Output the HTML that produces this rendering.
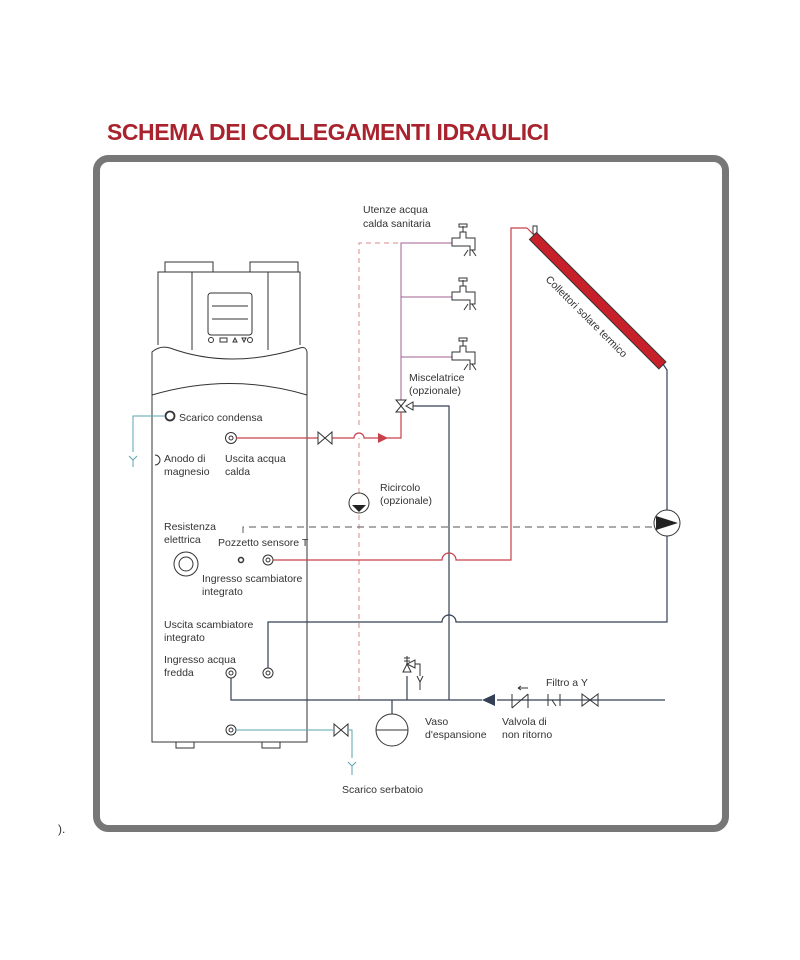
<!DOCTYPE html>
<html><head><meta charset="utf-8"><style>
html,body{margin:0;padding:0;background:#fff;width:800px;height:960px;overflow:hidden}
svg text{font-family:"Liberation Sans",sans-serif}
</style></head><body>
<svg width="800" height="960" viewBox="0 0 800 960" xmlns="http://www.w3.org/2000/svg">
<text x="107" y="140" font-size="23" font-weight="bold" fill="#a8232d" letter-spacing="-0.45">SCHEMA DEI COLLEGAMENTI IDRAULICI</text>
<rect x="96.5" y="158.5" width="629" height="670" rx="12" fill="none" stroke="#777" stroke-width="7"/>
<text x="58" y="833" font-size="12" fill="#333">).</text>

<g fill="none" stroke="#333" stroke-width="1">
<rect x="165" y="262" width="48" height="10"/>
<rect x="250" y="262" width="48" height="10"/>
<path d="M158 345 V272 H300 V345"/>
<line x1="192" y1="272" x2="192" y2="350"/>
<line x1="268" y1="272" x2="268" y2="350"/>
<rect x="208" y="293" width="44" height="42" rx="3"/>
<line x1="212" y1="306" x2="248" y2="306"/><line x1="212" y1="319" x2="248" y2="319"/>
<path d="M152 352 Q160 345 170 348 Q230 370 300 348 Q306 346 307 352 V742 H152 Z"/>
<path d="M152 395 Q230 372 307 395"/>
<rect x="176" y="742" width="18" height="6"/><rect x="262" y="742" width="18" height="6"/>
<circle cx="211" cy="340" r="2.5"/><rect x="220" y="338" width="7" height="4"/>
<path d="M233 342 L235 338 L237 342Z"/><path d="M242 338 L246 338 L244 342Z"/><circle cx="250" cy="340" r="2.5"/>
<circle cx="170" cy="416" r="4.5" stroke-width="1.8"/>
<path d="M155 455 A5 5 0 0 1 155 465"/>
<circle cx="231" cy="438" r="5.5"/><circle cx="231" cy="438" r="2"/>
<circle cx="186" cy="564" r="12"/><circle cx="186" cy="564" r="7"/>
<circle cx="241" cy="560" r="2.5" stroke-width="1.5"/>
<circle cx="268" cy="560" r="5"/><circle cx="268" cy="560" r="2"/>
<circle cx="231" cy="673" r="5"/><circle cx="231" cy="673" r="2"/>
<circle cx="268" cy="673" r="5"/><circle cx="268" cy="673" r="2"/>
<circle cx="231" cy="730" r="5"/><circle cx="231" cy="730" r="2"/>
</g>

<path d="M359 700 V438 M359 425 V243 H400" fill="none" stroke="#d88" stroke-width="1" stroke-dasharray="5,4"/>
<path d="M243 533 V527 H655" fill="none" stroke="#777" stroke-width="1.2" stroke-dasharray="7,5"/>

<g stroke="#a06090" stroke-width="1" fill="none">
<path d="M401 400 V243 H452 M401 297 H452 M401 357 H452"/>
</g>
<g fill="none" stroke="#333" stroke-width="1">
<path d="M452 238 H460 V232 H466 V238 H475 V250 H470 V246 H452 Z M463 232 V226 M459 224 h8 v3 h-8z M468 250 l-4 6 M470 250 v6 M472 250 l4 6"/>
<path d="M452 292 H460 V286 H466 V292 H475 V304 H470 V300 H452 Z M463 286 V280 M459 278 h8 v3 h-8z M468 304 l-4 6 M470 304 v6 M472 304 l4 6"/>
<path d="M452 352 H460 V346 H466 V352 H475 V364 H470 V360 H452 Z M463 346 V340 M459 338 h8 v3 h-8z M468 364 l-4 6 M470 364 v6 M472 364 l4 6"/>
<path d="M396 400 L406 400 L396 412 L406 412 Z"/><path d="M406 406 L413 402 L413 410 Z"/>
</g>

<g stroke="#334055" stroke-width="1.2" fill="none">
<path d="M413 406 H449 V700"/>
<path d="M663 364 L667 370 V510 M667 536 V622 H456 A7 7 0 0 0 442 622 H268 V668"/>
<path d="M231 678 V700 H482 M497 700 H665"/>
<path d="M392 700 V714 M407 700 V676"/>
</g>
<g stroke="#c8404a" stroke-width="1.2" fill="none">
<path d="M236 438 H318 M332 438 H354 A5 5 0 0 1 364 438 H401 V412"/>
<path d="M527 228 H511 V560 H456 A7 7 0 0 0 442 560 H273"/>
<path d="M527 228 L535 236"/>
</g>
<path d="M378 433 L388 438 L378 443Z" fill="#c8404a"/>
<path d="M318 432 L332 444 V432 L318 444 Z" fill="#fff" stroke="#333"/>

<rect x="533" y="226" width="4" height="8" fill="none" stroke="#333"/>
<g transform="translate(533,236) rotate(45)">
<rect x="0" y="-5" width="183" height="10" fill="#c8202a" stroke="#333" stroke-width="1"/>
</g>
<text transform="translate(545,280) rotate(45)" font-size="10.5" fill="#333">Collettori solare termico</text>

<circle cx="667" cy="523" r="13" fill="#fff" stroke="#333"/>
<path d="M656 516 L678 523 L656 530Z" fill="#222"/>
<path d="M482 700 L495 694 V706Z" fill="#334055"/>
<circle cx="359" cy="503" r="10" fill="#fff" stroke="#333"/>
<path d="M352 505 H366 L359 512Z" fill="#222"/>
<circle cx="392" cy="730" r="16" fill="#fff" stroke="#333"/>
<line x1="376" y1="730" x2="408" y2="730" stroke="#333"/>
<g fill="none" stroke="#333">
<path d="M403 672 L411 672 L407 664 Z M407 664 L415 668 L415 660 Z M415 664 H420 V676 M417 676 L420 682 L423 676 M420 682 V690 M407 664 V656 M404 658 h6 M404 661 h6"/>
<path d="M512 708 L528 694 M512 708 V694 M528 708 V694"/>
<path d="M518 688 H528 M518 688 l3 -2 M518 688 l3 2"/>
<path d="M548 694 V706 M560 694 V706 M552 700 l4 6"/>
<path d="M582 694 L598 706 V694 L582 706Z"/>
<path d="M334 724 L348 736 V724 L334 736Z"/>
</g>
<g stroke="#5aa6b0" stroke-width="1" fill="none">
<path d="M165 416 H133 V452 M129 456 L133 460 L137 456 M133 460 V467"/>
<path d="M236 730 H334 M348 730 H352 V758 M348 762 L352 766 L356 762 M352 766 V775"/>
</g>

<g font-size="10.5" fill="#333">
<text x="363" y="213">Utenze acqua</text><text x="363" y="227">calda sanitaria</text>
<text x="409" y="381">Miscelatrice</text><text x="409" y="394">(opzionale)</text>
<text x="179" y="421">Scarico condensa</text>
<text x="164" y="462">Anodo di</text><text x="164" y="475">magnesio</text>
<text x="225" y="462">Uscita acqua</text><text x="225" y="475">calda</text>
<text x="380" y="491">Ricircolo</text><text x="380" y="504">(opzionale)</text>
<text x="164" y="530">Resistenza</text><text x="164" y="543">elettrica</text>
<text x="218" y="546">Pozzetto sensore T</text>
<text x="202" y="582">Ingresso scambiatore</text><text x="202" y="595">integrato</text>
<text x="164" y="628">Uscita scambiatore</text><text x="164" y="641">integrato</text>
<text x="164" y="663">Ingresso acqua</text><text x="164" y="676">fredda</text>
<text x="546" y="686">Filtro a Y</text>
<text x="425" y="725">Vaso</text><text x="425" y="738">d'espansione</text>
<text x="502" y="725">Valvola di</text><text x="502" y="738">non ritorno</text>
<text x="342" y="793">Scarico serbatoio</text>
</g>
</svg>
</body></html>
